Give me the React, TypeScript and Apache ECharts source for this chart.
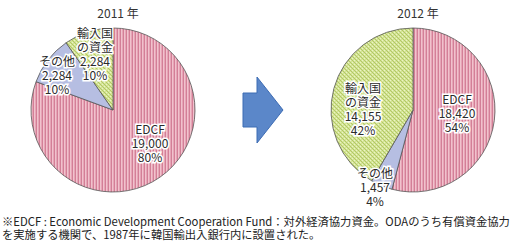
import React, { useEffect, useRef } from "react";
import * as echarts from "echarts";

// Yearly breakdown of funding sources
const years = ["2011 年", "2012 年"];
const categories = ["EDCF", "その他", "輸入国\nの資金"];
const values2011 = [19000, 2284, 2284];
const values2012 = [18420, 1457, 14155];
const percents2011 = [80, 10, 10];
const percents2012 = [54, 4, 42];

const noteLines = [
  "※EDCF : Economic Development Cooperation Fund：対外経済協力資金。ODAのうち有償資金協力",
  "を実施する機関で、1987年に韓国輸出入銀行内に設置された。",
];

const FONT = '"Noto Sans CJK JP", "Noto Sans", sans-serif';

function makePattern(w: number, h: number, draw: (ctx: CanvasRenderingContext2D) => void) {
  const c = document.createElement("canvas");
  c.width = w;
  c.height = h;
  const ctx = c.getContext("2d")!;
  draw(ctx);
  return { image: c, repeat: "repeat" as const };
}

// vertical pink stripes
function stripePattern() {
  return makePattern(3, 1, (ctx) => {
    ctx.fillStyle = "#f1c2cd";
    ctx.fillRect(0, 0, 3, 1);
    ctx.fillStyle = "#d37f97";
    ctx.fillRect(0, 0, 1, 1);
    ctx.fillStyle = "#e6a5b6";
    ctx.fillRect(2, 0, 1, 1);
  });
}

// small green lattice
function latticePattern() {
  return makePattern(4, 4, (ctx) => {
    ctx.fillStyle = "#d4e495";
    ctx.fillRect(0, 0, 4, 4);
    ctx.fillStyle = "#b2c767";
    ctx.fillRect(0, 0, 1, 1);
    ctx.fillRect(2, 2, 1, 1);
    ctx.fillRect(1, 1, 1, 1);
    ctx.fillRect(3, 3, 1, 1);
    ctx.fillStyle = "#ebf3c6";
    ctx.fillRect(2, 0, 1, 1);
    ctx.fillRect(0, 2, 1, 1);
  });
}

const centers: [number, number][] = [
  [113, 110],
  [413, 110],
];
const RADIUS = 82;

// label block centres, relative to each pie centre
const labelOffsets: [number, number][][] = [
  [
    [37, 32],
    [-56, -36],
    [-18, -57],
  ],
  [
    [44, 2],
    [-38, 76],
    [-50, -2],
  ],
];

export default function App() {
  const ref = useRef<HTMLDivElement>(null);

  useEffect(() => {
    document.body.style.margin = "0";
    const chart = echarts.init(ref.current!, undefined, { renderer: "svg" });
    const fills = [stripePattern(), "#b6bee2", latticePattern()];

    const makeSeries = (idx: number, values: number[], percents: number[]) => ({
      type: "pie" as const,
      center: centers[idx],
      radius: RADIUS,
      startAngle: 90,
      clockwise: true,
      silent: true,
      itemStyle: { borderColor: "#555", borderWidth: 0.8 },
      labelLine: { show: false },
      label: {
        show: true,
        position: "inside" as const,
        fontFamily: FONT,
        fontSize: 12,
        lineHeight: 14,
        color: "#2b2b2b",
        textBorderColor: "#fff",
        textBorderWidth: 3,
        align: "center" as const,
        formatter: (p: any) =>
          `${p.name}\n${p.value.toLocaleString("en-US")}\n${percents[p.dataIndex]}%`,
      },
      labelLayout: (p: any) => {
        const off = labelOffsets[idx][p.dataIndex];
        return { x: centers[idx][0] + off[0], y: centers[idx][1] + off[1] };
      },
      data: categories.map((name, i) => ({
        name,
        value: values[i],
        itemStyle: { color: fills[i] as any },
      })),
    });

    chart.setOption({
      animation: false,
      title: years.map((t, i) => ({
        text: t,
        left: centers[i][0],
        top: 1,
        textAlign: "center",
        textStyle: { fontFamily: FONT, fontSize: 12, fontWeight: "normal", color: "#333" },
      })),
      series: [makeSeries(0, values2011, percents2011), makeSeries(1, values2012, percents2012)],
      graphic: [
        {
          type: "polygon",
          shape: {
            points: [
              [243, 93],
              [257, 93],
              [257, 77],
              [283, 110],
              [257, 143],
              [257, 127],
              [243, 127],
            ],
          },
          style: { fill: "#5b87c9", stroke: "#3d6cb4", lineWidth: 1 },
        },
        {
          type: "text",
          left: 2,
          top: 215,
          style: {
            text: noteLines.join("\n"),
            font: `11.3px ${FONT}`,
            lineHeight: 12.5,
            fill: "#222",
          },
        },
      ],
    });
    return () => chart.dispose();
  }, []);

  return (
    <div
      ref={ref}
      style={{ position: "absolute", left: 0, top: 0, width: 527, height: 241 }}
    />
  );
}
